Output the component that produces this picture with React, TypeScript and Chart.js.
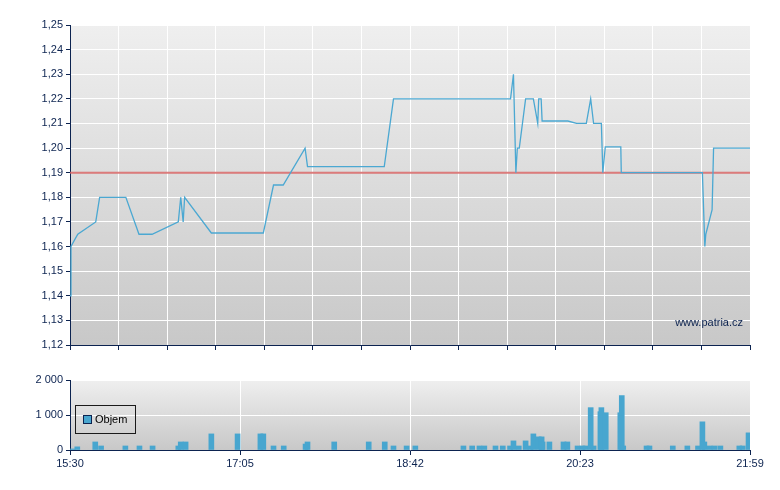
import { useEffect, useRef } from "react";
import { Chart, registerables } from "chart.js";

Chart.register(...registerables);

// osa x: 0..140 = 15:30 .. 21:59 (14 dílků po 10)
const timeLabels = ["15:30", "17:05", "18:42", "20:23", "21:59"];

const priceX = [
  0, 0.2, 1.6, 5.3, 6.1, 11.5, 14.2, 16.9, 22.3, 22.8, 23.3, 23.6, 29.1, 39.8,
  41.9, 43.9, 48.4, 48.9, 64.7, 66.6, 90.7, 91.3, 91.8, 92.1, 92.5, 93.8, 95.4,
  96.3, 96.5, 97.0, 97.2, 102.5, 104.3, 106.3, 107.2, 107.8, 109.4, 109.7,
  110.2, 113.4, 113.5, 130.2, 130.7, 130.9, 132.2, 132.5, 140,
];
const priceY = [
  1.14, 1.16, 1.165, 1.17, 1.18, 1.18, 1.165, 1.165, 1.17, 1.18, 1.17, 1.18,
  1.1655, 1.1655, 1.185, 1.185, 1.2, 1.1925, 1.1925, 1.22, 1.22, 1.23, 1.19,
  1.2, 1.2, 1.22, 1.22, 1.21, 1.22, 1.22, 1.211, 1.211, 1.21, 1.21, 1.22, 1.21,
  1.21, 1.19, 1.2005, 1.2005, 1.19, 1.19, 1.16, 1.165, 1.175, 1.2, 1.2,
];
const prevClose = 1.19;

const volX = [
  0.6, 1.5, 5.2, 6.4, 11.4, 14.3, 17.0, 22.3, 22.8, 23.8, 29.1, 34.5, 39.2,
  39.8, 41.9, 44.0, 48.5, 48.9, 54.4, 61.5, 64.8, 66.6, 69.3, 71.1, 81.0, 82.8,
  84.3, 85.3, 87.6, 89.1, 90.6, 91.3, 92.4, 93.8, 94.8, 95.4, 96.5, 97.1, 97.3,
  98.7, 101.6, 102.4, 104.5, 105.5, 106.1, 107.2, 107.8, 109.2, 109.4, 110.3,
  113.3, 113.6, 113.9, 118.7, 119.3, 124.1, 127.1, 129.3, 130.2, 130.6, 131.7,
  132.7, 133.9, 137.8, 138.5, 139.7,
];
const volY = [
  30, 90, 230, 115, 115, 115, 115, 115, 230, 230, 460, 460, 460, 460, 115, 115,
  170, 230, 230, 230, 230, 115, 115, 115, 115, 115, 115, 115, 115, 115, 115,
  260, 115, 260, 115, 460, 375, 375, 230, 230, 230, 230, 115, 115, 115, 1210,
  115, 1095, 1210, 1065, 1065, 1555, 115, 115, 115, 115, 115, 115, 805, 230,
  115, 115, 115, 115, 115, 490,
];

const FONT = "'Liberation Sans', Arial, sans-serif";
const NAVY = "#0c2350";
const BLUE = "#48a6cf";

// šedý přechod pod plochou grafu
const plotBackground = {
  id: "plotBackground",
  beforeDraw(chart: any) {
    const { ctx, chartArea: a } = chart;
    const g = ctx.createLinearGradient(0, a.top, 0, a.bottom);
    g.addColorStop(0, "#efefef");
    g.addColorStop(1, "#c8c8c8");
    ctx.save();
    ctx.fillStyle = g;
    ctx.fillRect(a.left, a.top, a.right - a.left, a.bottom - a.top);
    ctx.restore();
  },
};

const watermark = {
  id: "watermark",
  afterDatasetsDraw(chart: any) {
    const { ctx, chartArea: a } = chart;
    ctx.save();
    ctx.font = `11px ${FONT}`;
    ctx.fillStyle = NAVY;
    ctx.textAlign = "right";
    ctx.textBaseline = "middle";
    ctx.fillText("www.patria.cz", a.right - 7, a.bottom - 22);
    ctx.restore();
  },
};

const formatPrice = (v: number) => v.toFixed(2).replace(".", ",");
const formatVolume = (v: number) =>
  String(Math.round(v)).replace(/\B(?=(\d{3})+(?!\d))/g, " ");

const tickFont = { family: FONT, size: 11 };

export default function App() {
  const priceRef = useRef<HTMLCanvasElement | null>(null);
  const volRef = useRef<HTMLCanvasElement | null>(null);

  useEffect(() => {
    if (!priceRef.current || !volRef.current) return;

    const priceChart = new Chart(priceRef.current, {
      type: "line",
      data: {
        datasets: [
          {
            label: "Cena",
            data: priceX.map((x, i) => ({ x, y: priceY[i] })),
            borderColor: "#4ba8d2",
            borderWidth: 1.3,
            pointRadius: 0,
            tension: 0,
          },
          {
            label: "Předchozí závěr",
            data: [
              { x: 0, y: prevClose },
              { x: 140, y: prevClose },
            ],
            borderColor: "rgba(214, 100, 100, 0.85)",
            borderWidth: 2,
            pointRadius: 0,
          },
        ],
      },
      options: {
        responsive: false,
        animation: false,
        layout: { padding: { top: 25, right: 30, left: 0, bottom: 0 } },
        plugins: { legend: { display: false }, tooltip: { enabled: false } },
        scales: {
          x: {
            type: "linear",
            min: 0,
            max: 140,
            ticks: { stepSize: 10, display: false, autoSkip: false },
            grid: { color: "#ffffff", tickColor: NAVY, tickLength: 5 },
            border: { color: NAVY, width: 1 },
            afterFit: (s: any) => {
              s.height = 15;
            },
          },
          y: {
            type: "linear",
            min: 1.12,
            max: 1.25,
            ticks: {
              stepSize: 0.01,
              autoSkip: false,
              color: NAVY,
              padding: 3,
              font: tickFont,
              callback: (v: any) => formatPrice(Number(v)),
            },
            grid: { color: "#ffffff", tickColor: NAVY, tickLength: 4 },
            border: { color: NAVY, width: 1 },
            afterFit: (s: any) => {
              s.width = 70;
            },
          },
        },
      },
      plugins: [plotBackground, watermark],
    });

    const volChart = new Chart(volRef.current, {
      type: "bar",
      data: {
        datasets: [
          {
            label: "Objem",
            data: volX.map((x, i) => ({ x, y: volY[i] })),
            backgroundColor: BLUE,
            borderWidth: 0,
            barThickness: 5,
            grouped: false,
          },
        ],
      },
      options: {
        responsive: false,
        animation: false,
        layout: { padding: { top: 20, right: 30, left: 0, bottom: 0 } },
        plugins: { legend: { display: false }, tooltip: { enabled: false } },
        scales: {
          x: {
            type: "linear",
            min: 0,
            max: 140,
            offset: false,
            ticks: {
              stepSize: 35,
              autoSkip: false,
              maxRotation: 0,
              color: NAVY,
              padding: 2,
              font: tickFont,
              callback: (v: any) => timeLabels[Math.round(Number(v) / 35)],
            },
            grid: {
              offset: false,
              color: "#ffffff",
              tickColor: NAVY,
              tickLength: 5,
            },
            border: { color: NAVY, width: 1 },
            afterFit: (s: any) => {
              s.height = 40;
            },
          },
          y: {
            type: "linear",
            min: 0,
            max: 2000,
            ticks: {
              stepSize: 1000,
              color: NAVY,
              padding: 3,
              font: tickFont,
              callback: (v: any) => formatVolume(Number(v)),
            },
            grid: { color: "#ffffff", tickColor: NAVY, tickLength: 4 },
            border: { color: NAVY, width: 1 },
            afterFit: (s: any) => {
              s.width = 70;
            },
          },
        },
      },
      plugins: [plotBackground],
    });

    return () => {
      priceChart.destroy();
      volChart.destroy();
    };
  }, []);

  return (
    <div
      style={{
        position: "absolute",
        left: 0,
        top: 0,
        width: 780,
        height: 490,
        background: "#ffffff",
        fontFamily: FONT,
      }}
    >
      <div style={{ position: "absolute", left: 0, top: 0 }}>
        <canvas
          ref={priceRef}
          width={780}
          height={360}
          style={{ width: 780, height: 360, display: "block" }}
        />
      </div>
      <div style={{ position: "absolute", left: 0, top: 360 }}>
        <canvas
          ref={volRef}
          width={780}
          height={130}
          style={{ width: 780, height: 130, display: "block" }}
        />
      </div>
      {/* legenda uvnitř objemového grafu */}
      <div
        style={{
          position: "absolute",
          left: 75,
          top: 405,
          width: 61,
          height: 29,
          boxSizing: "border-box",
          border: "1px solid #1a1a1a",
        }}
      >
        <span
          style={{
            position: "absolute",
            left: 7,
            top: 9,
            width: 9,
            height: 9,
            boxSizing: "border-box",
            background: BLUE,
            border: `1px solid ${NAVY}`,
          }}
        />
        <span
          style={{
            position: "absolute",
            left: 19,
            top: 7,
            fontSize: 11,
            lineHeight: "13px",
            color: "#000000",
          }}
        >
          Objem
        </span>
      </div>
    </div>
  );
}
